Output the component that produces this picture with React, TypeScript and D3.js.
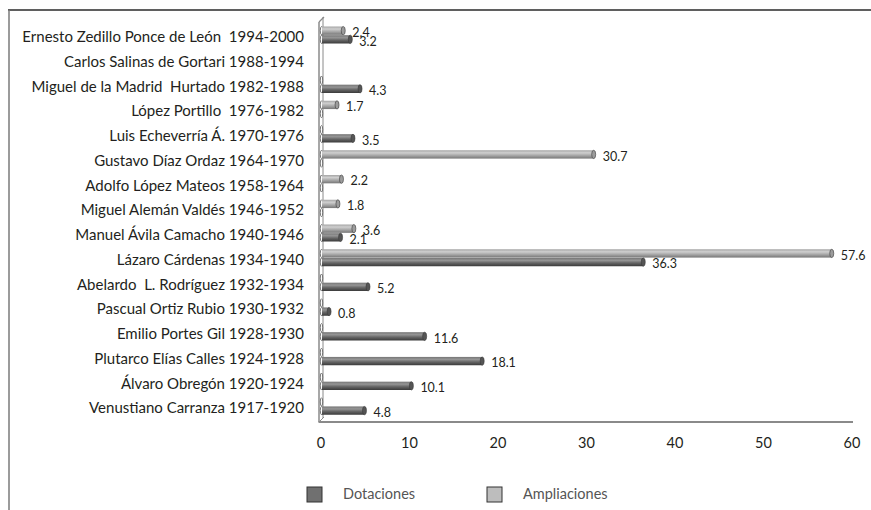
import React from "react";
import * as d3 from "d3";

const categories: string[] = [
  "Ernesto Zedillo Ponce de León  1994-2000",
  "Carlos Salinas de Gortari 1988-1994",
  "Miguel de la Madrid  Hurtado 1982-1988",
  "López Portillo  1976-1982",
  "Luis Echeverría Á. 1970-1976",
  "Gustavo Díaz Ordaz 1964-1970",
  "Adolfo López Mateos 1958-1964",
  "Miguel Alemán Valdés 1946-1952",
  "Manuel Ávila Camacho 1940-1946",
  "Lázaro Cárdenas 1934-1940",
  "Abelardo  L. Rodríguez 1932-1934",
  "Pascual Ortiz Rubio 1930-1932",
  "Emilio Portes Gil 1928-1930",
  "Plutarco Elías Calles 1924-1928",
  "Álvaro Obregón 1920-1924",
  "Venustiano Carranza 1917-1920",
];

const dotaciones: (number | null)[] = [3.2, null, 4.3, 0, 3.5, 0, 0, 0, 2.1, 36.3, 5.2, 0.8, 11.6, 18.1, 10.1, 4.8];
const ampliaciones: (number | null)[] = [2.4, null, 0, 1.7, 0, 30.7, 2.2, 1.8, 3.6, 57.6, 0, 0, 0, 0, 0, 0];

const seriesNames = ["Ampliaciones", "Dotaciones"];
const legendNames = ["Dotaciones", "Ampliaciones"];
const xTicks = [0, 10, 20, 30, 40, 50, 60];

const FONT = "Lato, 'Open Sans', sans-serif";

export default function App() {
  const W = 871;
  const H = 510;
  const x = d3.scaleLinear().domain([0, 60]).range([322, 853]);
  const y = d3.scaleBand<string>().domain(categories).range([26, 422]);
  const inner = d3.scaleBand<string>().domain(seriesNames).range([0.5, 17.5]).paddingInner(0.04);
  const bh = inner.bandwidth();

  const seriesData: Record<string, (number | null)[]> = {
    Ampliaciones: ampliaciones,
    Dotaciones: dotaciones,
  };
  const fillId: Record<string, string> = { Ampliaciones: "gLight", Dotaciones: "gDark" };
  const capFill: Record<string, string> = { Ampliaciones: "#9c9c9c", Dotaciones: "#555555" };

  const bars: any[] = [];
  categories.forEach((c, i) => {
    seriesNames.forEach((s) => {
      const v = seriesData[s][i];
      if (v === null || v === undefined) return;
      bars.push({ c, s, v, y0: (y(c) as number) + (inner(s) as number) });
    });
  });

  const wallColor = "#8a8a8a";

  return (
    <svg width={W} height={H} style={{ position: "absolute", left: 0, top: 0, background: "#fff" }}>
      <defs>
        <linearGradient id="gDark" x1="0" y1="0" x2="0" y2="1">
          <stop offset="0%" stopColor="#767676" />
          <stop offset="30%" stopColor="#959595" />
          <stop offset="60%" stopColor="#666666" />
          <stop offset="100%" stopColor="#3a3a3a" />
        </linearGradient>
        <linearGradient id="gLight" x1="0" y1="0" x2="0" y2="1">
          <stop offset="0%" stopColor="#a4a4a4" />
          <stop offset="30%" stopColor="#cfcfcf" />
          <stop offset="60%" stopColor="#aaaaaa" />
          <stop offset="100%" stopColor="#767676" />
        </linearGradient>
      </defs>

      {/* frame */}
      <line x1={8} y1={10} x2={871} y2={10} stroke="#2a2a2a" strokeWidth={1.5} />
      <line x1={9} y1={10} x2={9} y2={510} stroke="#7a7a7a" strokeWidth={1.5} />

      {/* 3D wall and floor */}
      <line x1={319} y1={22} x2={319} y2={422} stroke={wallColor} strokeWidth={1.5} />
      <line x1={323} y1={17} x2={323} y2={418} stroke={wallColor} strokeWidth={1} />
      <line x1={319} y1={22} x2={324} y2={17} stroke={wallColor} strokeWidth={1.2} />
      <line x1={319} y1={422} x2={324} y2={417} stroke={wallColor} strokeWidth={1} />
      <line x1={318.5} y1={422} x2={x(60)} y2={422} stroke={wallColor} strokeWidth={2} />

      {/* bar bases on wall */}
      {bars.map((b, i) => (
        <ellipse
          key={"base" + i}
          cx={x(0) - 0.5}
          cy={b.y0 + bh / 2}
          rx={1.2}
          ry={bh / 2}
          fill="none"
          stroke="#6a6a6a"
          strokeWidth={0.9}
        />
      ))}

      {/* bars */}
      {bars
        .filter((b) => b.v > 0)
        .map((b, i) => (
          <g key={"bar" + i}>
            <rect x={x(0)} y={b.y0} width={x(b.v) - x(0)} height={bh} fill={`url(#${fillId[b.s]})`} />
            <ellipse cx={x(b.v)} cy={b.y0 + bh / 2} rx={2} ry={bh / 2} fill={capFill[b.s]} stroke="#3a3a3a" strokeWidth={0.6} />
          </g>
        ))}

      {/* data labels */}
      {bars
        .filter((b) => b.v > 0)
        .map((b, i) => (
          <text
            key={"lab" + i}
            x={x(b.v) + 9}
            y={b.y0 + bh / 2 + 3}
            dominantBaseline="middle"
            fontFamily={FONT}
            fontSize={12.5}
            fill="#231f20"
          >
            {b.v}
          </text>
        ))}

      {/* category labels */}
      {categories.map((c) => (
        <text
          key={c}
          x={304}
          y={(y(c) as number) + y.bandwidth() / 2}
          textAnchor="end"
          dominantBaseline="middle"
          fontFamily={FONT}
          fontSize={15}
          fill="#231f20"
          style={{ whiteSpace: "pre" }}
        >
          {c}
        </text>
      ))}

      {/* x ticks */}
      {xTicks.map((t) => (
        <text
          key={t}
          x={x(t) - 1}
          y={444}
          textAnchor="middle"
          dominantBaseline="middle"
          fontFamily={FONT}
          fontSize={14.5}
          fill="#231f20"
        >
          {t}
        </text>
      ))}

      {/* legend */}
      {legendNames.map((n, i) => {
        const lx = i === 0 ? 307 : 487;
        return (
          <g key={n}>
            <rect x={lx} y={487} width={15} height={15} fill={n === "Dotaciones" ? "#707070" : "#bdbdbd"} stroke="#333" strokeWidth={1} />
            <text x={lx + 36} y={495} dominantBaseline="middle" fontFamily={FONT} fontSize={14.5} fill="#555">
              {n}
            </text>
          </g>
        );
      })}
    </svg>
  );
}
